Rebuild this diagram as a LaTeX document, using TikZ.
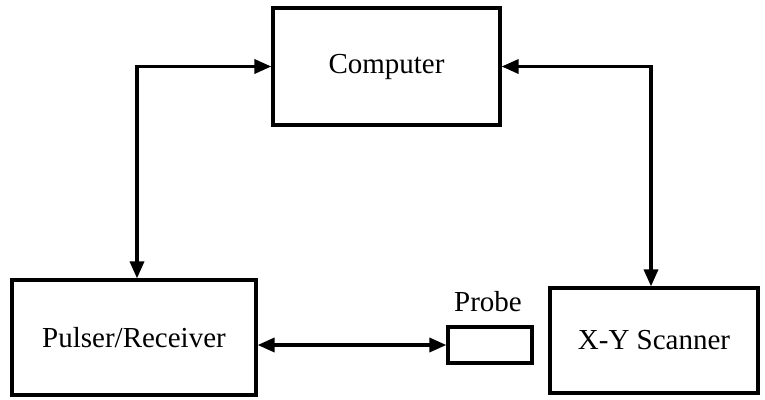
\documentclass[tikz,border=0pt]{standalone}
\usepackage{fontspec}
\setmainfont{Liberation Serif}
\usetikzlibrary{arrows.meta}
\begin{document}
\begin{tikzpicture}[x=1pt,y=-1pt,
  blk/.style={draw,line width=3.2pt,inner sep=0pt,font=\fontsize{29}{34}\selectfont},
  lbl/.style={inner sep=0pt,font=\fontsize{29}{34}\selectfont},
  conn/.style={line width=3.4pt,{Triangle[length=17pt,width=14pt]}-{Triangle[length=17pt,width=14pt]}}]
\useasboundingbox (0,0) rectangle (765,399);
\node[blk,minimum width=227pt,minimum height=117pt] (comp) at (386.5,66.5) {Computer};
\node[blk,minimum width=244pt,minimum height=115pt] (pr) at (134,337.5) {Pulser/Receiver};
\node[blk,minimum width=208pt,minimum height=105pt] (scan) at (654,340.5) {X-Y Scanner};
\node[blk,minimum width=84pt,minimum height=36pt] (pb) at (490,345) {};
\node[lbl] (pbl) at (488,302) {Probe};
\draw[conn] ([xshift=3pt]pr.north) |- (comp.west);
\draw[conn] ([xshift=-3pt]scan.north) |- (comp.east);
\draw[conn] (pr.east |- pb.west) -- (pb.west);
\end{tikzpicture}
\end{document}
